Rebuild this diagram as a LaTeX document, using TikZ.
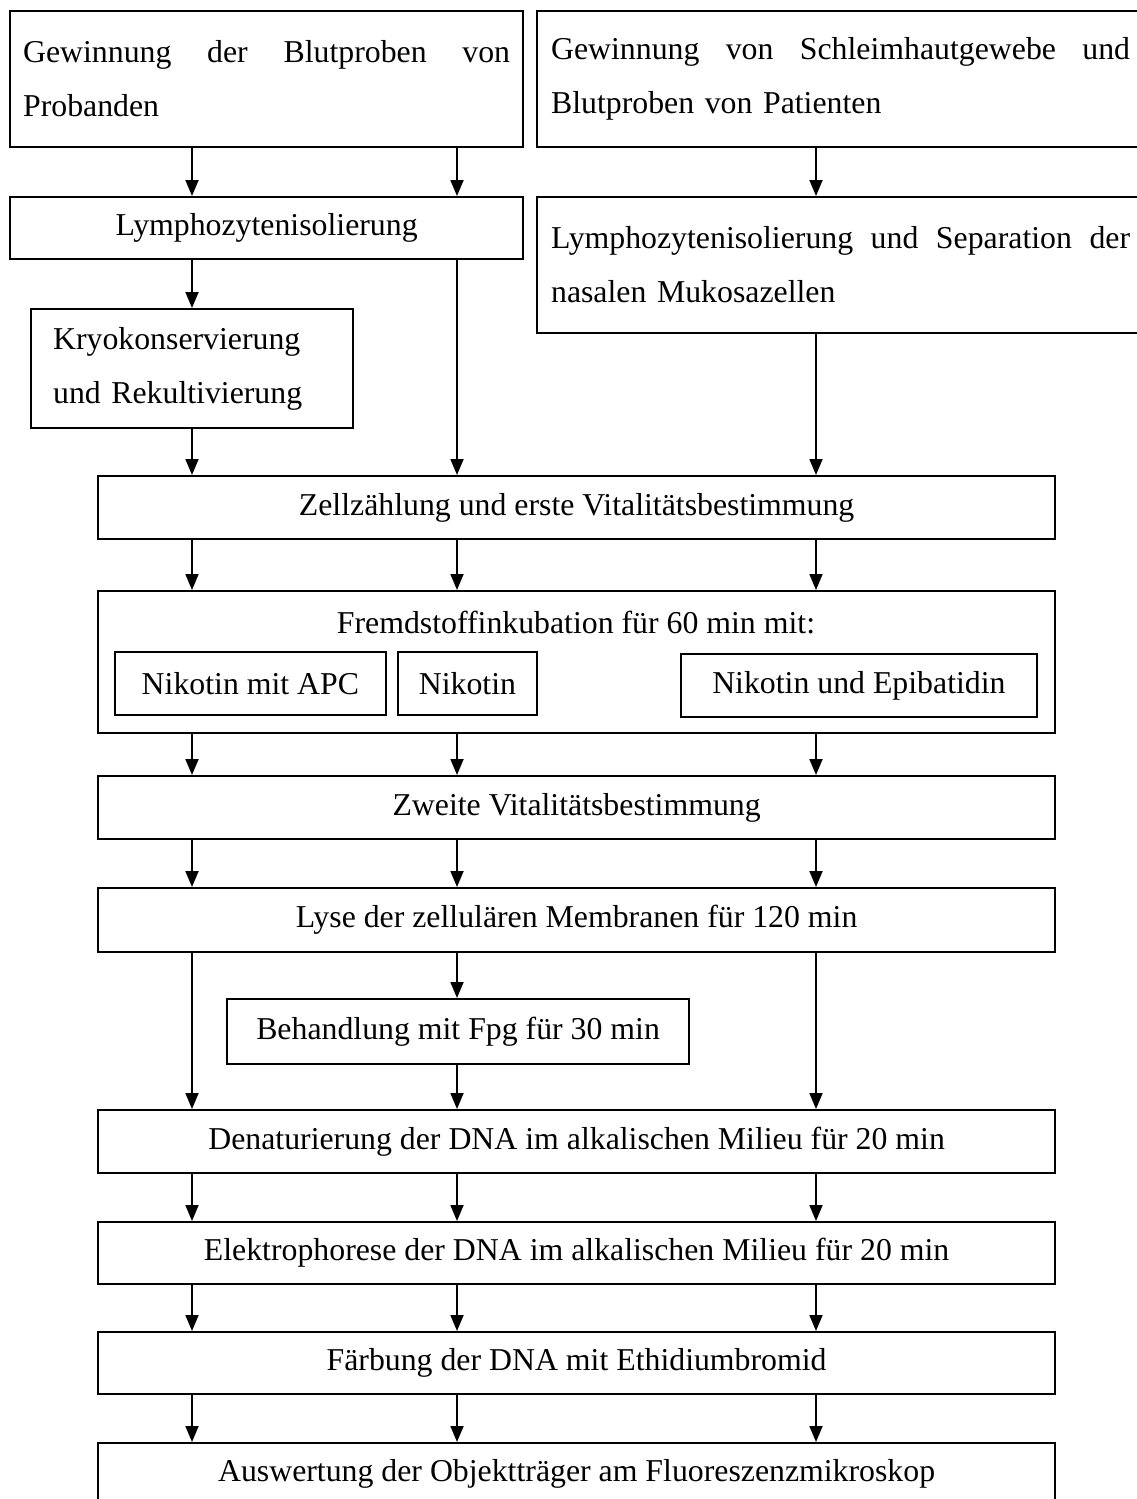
\documentclass[tikz,border=0pt]{standalone}
\usepackage{fontspec}
\setmainfont{Liberation Serif}
\usetikzlibrary{arrows.meta}
\begin{document}
\begin{tikzpicture}[x=1pt,y=-1pt,
  box/.style={draw, line width=2.2pt, anchor=north west, inner sep=0pt, align=center, font=\fontsize{31.8}{54}\selectfont},
  subbox/.style={box, line width=1.8pt},
  arr/.style={line width=1.8pt, -{Triangle[length=16pt,width=13pt]}},
  lbl/.style={font=\fontsize{31.8}{54}\selectfont, inner sep=0pt}]
\clip (0,0) rectangle (1137,1499);
\fill[white] (0,0) rectangle (1137,1499);
\coordinate (cA) at (192,0);
\coordinate (cB) at (457,0);
\coordinate (cC) at (816,0);

\node[box, minimum width=513pt, minimum height=136pt, text width=487pt, align=left] (b1) at (9,10)
  {\hbox to 487pt{Gewinnung\hfill der\hfill Blutproben\hfill von}\\Probanden};
\node[box, minimum width=607pt, minimum height=136pt, text width=579pt, align=left] (b2) at (536,10)
  {\hbox to 579pt{Gewinnung\hfill von\hfill Schleimhautgewebe\hfill und}\\Blutproben von Patienten};
\node[box, minimum width=513pt, minimum height=62pt] (l1) at (9,196) {Lymphozytenisolierung};
\node[box, minimum width=607pt, minimum height=136pt, text width=579pt, align=left] (l2) at (536,196)
  {\hbox to 579pt{Lymphozytenisolierung\hfill und\hfill Separation\hfill der}\\nasalen Mukosazellen};
\node[box, minimum width=322pt, minimum height=119pt, text width=278pt, align=left] (kr) at (30,308)
  {Kryokonservierung\\und Rekultivierung};
\node[box, minimum width=957pt, minimum height=63pt] (zz) at (97,475) {Zellzählung und erste Vitalitätsbestimmung};
\node[box, minimum width=957pt, minimum height=142pt] (fr) at (97,590) {};
\node[lbl] (frt) at (576,623) {Fremdstoffinkubation für 60 min mit:};
\node[subbox, minimum width=271pt, minimum height=63pt] (s1) at (114,651) {Nikotin mit APC};
\node[subbox, minimum width=139pt, minimum height=63pt] (s2) at (397,651) {Nikotin};
\node[subbox, minimum width=356pt, minimum height=63pt] (s3) at (680,653) {Nikotin und Epibatidin};
\node[box, minimum width=957pt, minimum height=63pt] (zw) at (97,775) {Zweite Vitalitätsbestimmung};
\node[box, minimum width=957pt, minimum height=64pt] (ly) at (97,887) {Lyse der zellulären Membranen für 120 min};
\node[box, minimum width=462pt, minimum height=65pt] (be) at (226,998) {Behandlung mit Fpg für 30 min};
\node[box, minimum width=957pt, minimum height=63pt] (de) at (97,1109) {Denaturierung der DNA im alkalischen Milieu für 20 min};
\node[box, minimum width=957pt, minimum height=62pt] (el) at (97,1221) {Elektrophorese der DNA im alkalischen Milieu für 20 min};
\node[box, minimum width=957pt, minimum height=62pt] (fa) at (97,1331) {Färbung der DNA mit Ethidiumbromid};
\node[box, minimum width=957pt, minimum height=62pt] (au) at (97,1442) {Auswertung der Objektträger am Fluoreszenzmikroskop};

\draw[arr] (b1.south -| cA) -- (l1.north -| cA);
\draw[arr] (b1.south -| cB) -- (l1.north -| cB);
\draw[arr] (b2.south -| cC) -- (l2.north -| cC);
\draw[arr] (l1.south -| cA) -- (kr.north -| cA);
\draw[arr] (kr.south -| cA) -- (zz.north -| cA);
\draw[arr] (l1.south -| cB) -- (zz.north -| cB);
\draw[arr] (l2.south -| cC) -- (zz.north -| cC);
\foreach \c in {cA,cB,cC} {
  \draw[arr] (zz.south -| \c) -- (fr.north -| \c);
  \draw[arr] (fr.south -| \c) -- (zw.north -| \c);
  \draw[arr] (zw.south -| \c) -- (ly.north -| \c);
  \draw[arr] (de.south -| \c) -- (el.north -| \c);
  \draw[arr] (el.south -| \c) -- (fa.north -| \c);
  \draw[arr] (fa.south -| \c) -- (au.north -| \c);
}
\draw[arr] (ly.south -| cA) -- (de.north -| cA);
\draw[arr] (ly.south -| cC) -- (de.north -| cC);
\draw[arr] (ly.south -| cB) -- (be.north -| cB);
\draw[arr] (be.south -| cB) -- (de.north -| cB);
\end{tikzpicture}
\end{document}
